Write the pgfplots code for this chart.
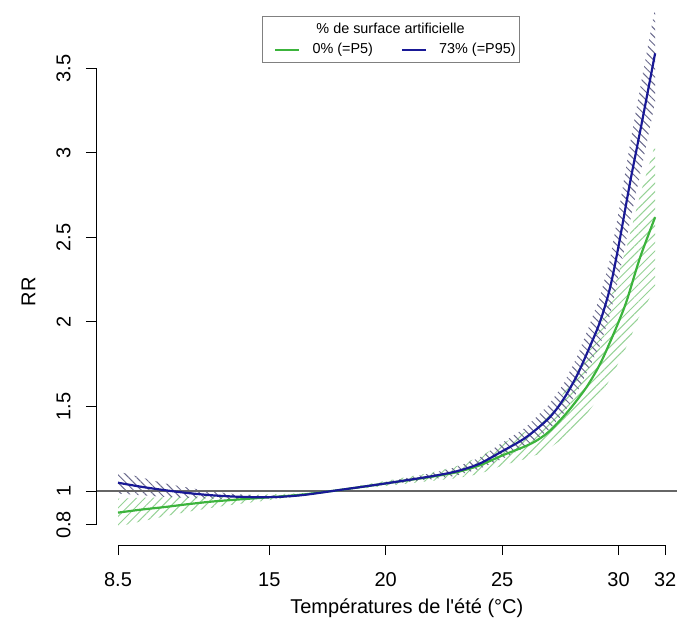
\documentclass[border=0pt]{standalone}
\usepackage{fontspec}
\setmainfont{Liberation Sans}
\usepackage{pgfplots}
\pgfplotsset{compat=1.18}
\usepackage{pgfplotstable}
\usepgfplotslibrary{fillbetween}
\usetikzlibrary{patterns.meta}

\definecolor{lgreen}{RGB}{60,180,60}
\definecolor{lblue}{RGB}{25,25,150}
\definecolor{hgreen}{RGB}{150,210,150}
\definecolor{hblue}{RGB}{105,105,140}

% x = summer temperature, est = RR, lo/hi = confidence band
\pgfplotstableread{
x est lo hi
8.5 0.872 0.790 0.955
9.5 0.890 0.820 0.960
10.5 0.905 0.850 0.962
11.5 0.922 0.877 0.966
12.5 0.937 0.900 0.972
13.5 0.948 0.920 0.976
14.5 0.958 0.937 0.979
15.5 0.968 0.955 0.982
16.5 0.980 0.972 0.988
17.7 1.000 1.000 1.000
19 1.025 1.015 1.035
20 1.045 1.030 1.060
21 1.065 1.045 1.085
22 1.085 1.060 1.110
23 1.110 1.075 1.145
24 1.150 1.100 1.200
25 1.210 1.150 1.280
26 1.265 1.190 1.350
26.5 1.300 1.215 1.400
27 1.350 1.250 1.460
27.5 1.420 1.300 1.550
28 1.500 1.360 1.660
28.65 1.620 1.460 1.800
29.2 1.750 1.560 1.970
29.63 1.880 1.660 2.130
30 2.000 1.760 2.290
30.36 2.130 1.860 2.450
30.92 2.380 2.040 2.750
31.57 2.620 2.200 3.050
}\pfive

\pgfplotstableread{
x est lo hi
8.5 1.049 0.985 1.115
9.5 1.025 0.975 1.080
10.5 1.005 0.965 1.045
11.5 0.988 0.960 1.020
12.5 0.975 0.955 0.997
13.5 0.967 0.953 0.982
14.5 0.963 0.953 0.973
15.5 0.966 0.958 0.974
16.5 0.977 0.972 0.982
17.7 1.000 1.000 1.000
19 1.025 1.020 1.031
20 1.045 1.037 1.054
21 1.066 1.054 1.080
22 1.088 1.070 1.106
23 1.115 1.090 1.140
24 1.160 1.130 1.195
25 1.235 1.190 1.285
26 1.315 1.260 1.375
27 1.430 1.360 1.510
27.62 1.540 1.455 1.630
28.2 1.680 1.580 1.790
28.69 1.830 1.715 1.960
29.2 2.000 1.860 2.150
29.63 2.200 2.040 2.370
30 2.450 2.260 2.650
30.5 2.830 2.600 3.060
31 3.180 2.920 3.440
31.57 3.590 3.300 3.860
}\pninetyfive

\begin{document}
\begin{tikzpicture}
\begin{axis}[
  scale only axis, width=290.5pt, height=272.5pt,
  xmin=7.555, xmax=32.51, ymin=0.6805, ymax=3.905,
  axis lines*=left, axis line style={draw=none},
  clip=false,
  xtick={8.5,15,20,25,30,32},
  ytick={0.8,1,1.5,2,2.5,3,3.5},
  tick align=outside, major tick length=5pt,
  tick style={black, line width=0.5pt},
  /pgf/number format/assume math mode=true,
  ticklabel style={font=\fontsize{10}{12}\selectfont, inner sep=0pt},
  xticklabel style={anchor=north},
  yticklabel style={rotate=90, anchor=south},
  xticklabel shift=8.5pt, yticklabel shift=7.5pt,
  xlabel={Températures de l\textquotesingle été (°C)}, ylabel={RR},
  label style={font=\fontsize{10}{12}\selectfont},
  xlabel style={at={(axis description cs:0.535,-0.1156)}, anchor=center},
  ylabel style={at={(axis description cs:-0.116,0.465)}, anchor=center},
  legend columns=2,
  legend style={at={(axis description cs:0.5146,0.9083)}, anchor=center,
    draw=none, fill=none, font=\fontsize{7.2}{9}\selectfont,
    nodes={inner xsep=0pt},
    /tikz/every odd column/.append style={column sep=6pt},
    /tikz/every even column/.append style={column sep=14pt}},
  legend image code/.code={\draw[#1] (0pt,0pt) -- (12pt,0pt);},
]
% confidence bands
\addplot[draw=none, name path=glo, forget plot] table[x=x, y=lo]{\pfive};
\addplot[draw=none, name path=ghi, forget plot] table[x=x, y=hi]{\pfive};
\addplot[pattern={Lines[angle=45, distance=3pt, line width=0.5pt]}, pattern color=hgreen, forget plot]
  fill between[of=glo and ghi];
\addplot[draw=none, name path=blo, forget plot] table[x=x, y=lo]{\pninetyfive};
\addplot[draw=none, name path=bhi, forget plot] table[x=x, y=hi]{\pninetyfive};
\addplot[pattern={Lines[angle=-45, distance=2.8pt, line width=0.5pt]}, pattern color=hblue, forget plot]
  fill between[of=blo and bhi];

% reference line RR = 1
\addplot[gray!80!black, line width=0.7pt, forget plot] coordinates {(7.555,1) (32.51,1)};

\addplot[lgreen, line width=1.1pt, smooth] table[x=x, y=est]{\pfive};
\addlegendentry{0\% (=P5)}
\addplot[lblue, line width=1.1pt, smooth] table[x=x, y=est]{\pninetyfive};
\addlegendentry{73\% (=P95)}

% R-style axis lines
\draw[black, line width=0.5pt] (axis cs:8.5,0.6805) -- (axis cs:32,0.6805);
\draw[black, line width=0.5pt] (axis cs:7.555,0.8) -- (axis cs:7.555,3.5);

% legend title and frame
\node[font=\fontsize{7.2}{9}\selectfont] at (axis description cs:0.5069,0.9486) {\% de surface artificielle};
\draw[gray, line width=0.5pt] (axis description cs:0.2857,0.8862) rectangle (axis description cs:0.7281,0.9706);

\coordinate (bl) at (axis description cs:0,0);
\coordinate (tr) at (axis description cs:1,1);
\end{axis}
\pgfresetboundingbox
\path ([shift={(-48pt,-40.5pt)}]bl) rectangle (tr);
\end{tikzpicture}
\end{document}
